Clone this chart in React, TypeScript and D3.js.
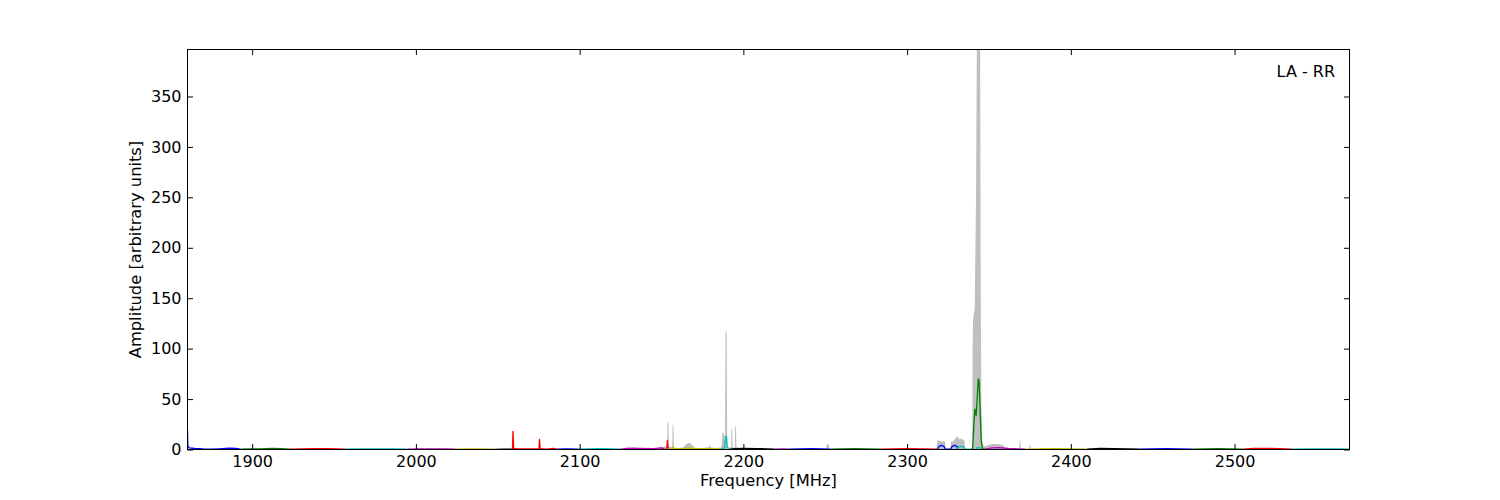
import React, { useEffect, useRef } from 'react';
import * as d3 from 'd3';

// axis setup
const freqDomain: [number, number] = [1860.5, 2570.2];
const ampMax = 396.6;
const freqTicks = [1900, 2000, 2100, 2200, 2300, 2400, 2500];
const ampTicks = [0, 50, 100, 150, 200, 250, 300, 350];
const panelLabel = 'LA - RR';

// matplotlib classic color letters
const colorCodes: Record<string, string> = {
  b: '#0000ff', g: '#008000', r: '#ff0000', c: '#00bfbf', m: '#bf00bf', y: '#bfbf00', k: '#000000',
};

// one entry per sub-band: colour letter + [freq MHz, amplitude] points
const bandColors = [
  'b', 'g', 'r', 'c', 'm', 'y', 'k', 'r', 'b', 'c', 'm', 'y', 'r', 'c', 'k', 'm',
  'b', 'g', 'r', 'b', 'c', 'g', 'c', 'm', 'y', 'k', 'b', 'g', 'r', 'c',
];

const bandPoints: [number, number][][] = [
  [[1860.5, 19], [1860.7, 4], [1861.5, 1.6], [1865, 1.0], [1870, 0.5], [1875, 0.3], [1880, 0.7], [1886, 1.3], [1890, 1.0], [1893, 0.3]],
  [[1893, 0.3], [1898, 0.5], [1905, 0.7], [1912, 1.0], [1918, 0.9], [1923, 0.3]],
  [[1923, 0.3], [1930, 0.7], [1938, 0.9], [1946, 0.8], [1952, 0.5], [1957, 0.3]],
  [[1957, 0.3], [1965, 0.5], [1975, 0.6], [1985, 0.5], [1995, 0.3]],
  [[1995, 0.3], [2002, 0.6], [2010, 0.7], [2018, 0.5], [2024, 0.3]],
  [[2024, 0.3], [2032, 0.5], [2040, 0.6], [2048, 0.3]],
  [[2048, 0.2], [2053, 0.4], [2059, 0.3]],
  [[2059, 0.3], [2059.3, 18], [2059.7, 1.2], [2062, 0.6], [2070, 0.5], [2075.2, 0.8], [2075.5, 10], [2075.9, 0.8], [2080, 0.4], [2084, 1.0], [2086, 0.3]],
  [[2086, 0.3], [2092, 0.6], [2099, 0.3]],
  [[2099, 0.3], [2105, 0.6], [2112, 0.8], [2120, 0.7], [2125, 0.3]],
  [[2125, 0.3], [2130, 1.2], [2136, 1.0], [2145, 0.8], [2150, 1.5], [2152, 0.4]],
  [[2152, 0.3], [2156.5, 0.8], [2157, 2.5], [2157.5, 0.8], [2162, 0.6], [2167, 1.3], [2170, 1.1], [2175, 0.7], [2180, 0.8], [2186, 0.3]],
  [[2153.2, 0.5], [2153.6, 9], [2154.1, 1]],
  [[2186, 0.3], [2188.5, 1.5], [2189.1, 13], [2189.7, 13], [2190.1, 2], [2192, 0.3]],
  [[2192, 0.3], [2195, 0.8], [2200, 1.0], [2208, 0.9], [2214, 0.7], [2219, 0.3]],
  [[2219, 0.3], [2224, 0.6], [2228, 0.3]],
  [[2228, 0.3], [2235, 0.6], [2242, 0.8], [2248, 0.6], [2253, 0.3]],
  [[2253, 0.3], [2260, 0.6], [2268, 0.8], [2276, 0.6], [2284, 0.3]],
  [[2284, 0.3], [2292, 0.6], [2300, 0.8], [2310, 0.6], [2318.5, 0.3]],
  [[2318.5, 0.3], [2319.5, 3], [2321, 4], [2322.5, 3], [2323.5, 0.3], [2326.5, 0.3], [2327.5, 3], [2329, 4], [2330.5, 3], [2331, 0.3]],
  [[2330, 0.3], [2331.5, 2.5], [2333, 3], [2334.5, 2.5], [2335.5, 0.3], [2339, 0.3]],
  [[2339, 0.3], [2340.0, 0.3], [2340.8, 25], [2341.4, 40], [2341.8, 36], [2342.2, 34], [2342.8, 50], [2343.5, 70], [2344.0, 68], [2344.7, 35], [2345.3, 8], [2346.1, 0.5], [2348, 0.3]],
  [[2342, 0.3], [2343, 2], [2344.5, 1.5], [2345.5, 0.3]],
  [[2348, 0.3], [2352, 1.6], [2356, 1.8], [2362, 1.0], [2368, 0.6], [2372, 0.3]],
  [[2372, 0.3], [2380, 0.6], [2390, 0.8], [2400, 0.6], [2410, 0.3]],
  [[2410, 0.3], [2418, 1.0], [2426, 0.8], [2435, 0.6], [2442, 0.3]],
  [[2442, 0.3], [2450, 0.6], [2458, 0.8], [2466, 0.7], [2474, 0.3]],
  [[2474, 0.3], [2482, 0.6], [2490, 0.8], [2498, 0.6], [2505, 0.3]],
  [[2505, 0.3], [2512, 1.0], [2520, 1.2], [2528, 0.9], [2535, 0.3]],
  [[2535, 0.3], [2545, 0.6], [2555, 0.7], [2565, 0.6], [2570.2, 0.4]],
];

// grey envelope (spread of the spectra)
const grayPoints: [number, number][] = [
  [1860.5, 0], [2075.2, 0], [2075.5, 13], [2075.9, 0],
  [2126, 0], [2128, 2], [2134, 2.2], [2136, 0],
  [2147, 0], [2149, 2], [2152, 3], [2153.4, 3], [2153.6, 27], [2154.2, 27], [2154.5, 3], [2155.5, 2.5],
  [2156.6, 2.5], [2156.8, 24.5], [2157.3, 24.5], [2157.6, 2], [2160, 1.5], [2163, 2], [2165, 5], [2166, 6],
  [2167.5, 7], [2168, 5], [2169, 4.5], [2170, 1.5], [2175, 1.5], [2179, 2.5], [2179.5, 5], [2180, 2], [2183, 1.5],
  [2186.5, 2], [2187.2, 16], [2187.6, 17], [2188.2, 15], [2188.8, 8], [2189.1, 117], [2189.8, 117], [2190.1, 8], [2190.6, 2],
  [2192.5, 2], [2192.7, 20], [2193.2, 20], [2193.5, 2], [2194.8, 2], [2195, 23], [2195.5, 23], [2195.8, 2],
  [2197, 1.5], [2200, 1], [2205, 0],
  [2250.5, 0], [2251, 5.5], [2252, 5.5], [2252.5, 0],
  [2318, 0], [2318.5, 9], [2320, 8.5], [2323.2, 8], [2323.6, 0],
  [2326.5, 0], [2326.8, 8], [2328, 8], [2330, 12], [2331, 13], [2332, 10], [2333, 11], [2335, 9], [2335.5, 0],
  [2339.8, 0], [2340.0, 100], [2340.3, 129], [2341.3, 140], [2342.1, 250], [2342.6, 396.6], [2344.6, 396.6],
  [2345.0, 150], [2345.4, 40], [2345.8, 10], [2346.5, 4], [2347, 3], [2349, 4], [2352, 5.5], [2356, 5.5], [2359, 4], [2360, 0],
  [2368.4, 0], [2368.7, 9], [2369.1, 9], [2369.4, 0],
  [2374.5, 0], [2374.8, 5], [2375.2, 5], [2375.5, 0],
  [2570.2, 0],
];

const W = 1500;
const H = 500;
const margin = { left: 187.5, right: 1349.5, top: 49.5, bottom: 449.5 };
const FONT = 'DejaVu Sans';

export default function App() {
  const svgRef = useRef<SVGSVGElement | null>(null);

  useEffect(() => {
    if (!svgRef.current) return;
    document.body.style.margin = '0';
    const svg = d3.select(svgRef.current);
    svg.selectAll('*').remove();

    const x = d3.scaleLinear().domain(freqDomain).range([margin.left, margin.right]);
    const y = d3.scaleLinear().domain([0, ampMax]).range([margin.bottom, margin.top]);

    svg.append('defs').append('clipPath').attr('id', 'plotclip')
      .append('rect')
      .attr('x', margin.left).attr('y', margin.top)
      .attr('width', margin.right - margin.left).attr('height', margin.bottom - margin.top);

    const plot = svg.append('g').attr('clip-path', 'url(#plotclip)');

    // grey spread
    const area = d3.area<[number, number]>()
      .x(d => x(d[0]))
      .y0(y(0))
      .y1(d => y(d[1]));
    plot.append('path')
      .attr('d', area(grayPoints))
      .attr('fill', '#bfbfbf')
      .attr('stroke', 'none');

    // coloured sub-band spectra
    const line = d3.line<[number, number]>()
      .x(d => x(d[0]))
      .y(d => y(d[1]));
    plot.append('g')
      .attr('fill', 'none')
      .attr('stroke-width', 1.3)
      .attr('stroke-linejoin', 'round')
      .selectAll('path')
      .data(bandPoints)
      .join('path')
      .attr('stroke', (d, i) => colorCodes[bandColors[i]])
      .attr('d', d => line(d));

    // axes, ticks pointing inward on all sides
    const styleTicks = (g: d3.Selection<SVGGElement, unknown, null, undefined>, keepText: boolean) => {
      g.select('.domain').remove();
      g.selectAll('.tick line').attr('stroke', '#000').attr('stroke-width', 1);
      if (!keepText) g.selectAll('.tick text').remove();
      g.selectAll('.tick text')
        .attr('font-family', FONT)
        .attr('font-size', 16)
        .attr('fill', '#000');
    };

    svg.append('g')
      .attr('transform', `translate(0,${margin.bottom})`)
      .call(d3.axisBottom(x).tickValues(freqTicks).tickFormat(d3.format('d')).tickSizeInner(-5.5).tickSizeOuter(0).tickPadding(6.5))
      .call(g => styleTicks(g, true));
    svg.append('g')
      .attr('transform', `translate(0,${margin.top})`)
      .call(d3.axisTop(x).tickValues(freqTicks).tickSizeInner(-5.5).tickSizeOuter(0))
      .call(g => styleTicks(g, false));
    svg.append('g')
      .attr('transform', `translate(${margin.left},0)`)
      .call(d3.axisLeft(y).tickValues(ampTicks).tickFormat(d3.format('d')).tickSizeInner(-5.5).tickSizeOuter(0).tickPadding(6))
      .call(g => styleTicks(g, true));
    svg.append('g')
      .attr('transform', `translate(${margin.right},0)`)
      .call(d3.axisRight(y).tickValues(ampTicks).tickSizeInner(-5.5).tickSizeOuter(0))
      .call(g => styleTicks(g, false));

    // frame
    svg.append('rect')
      .attr('x', margin.left).attr('y', margin.top)
      .attr('width', margin.right - margin.left).attr('height', margin.bottom - margin.top)
      .attr('fill', 'none').attr('stroke', '#000').attr('stroke-width', 1);

    // labels
    svg.append('text')
      .attr('x', (margin.left + margin.right) / 2)
      .attr('y', 486)
      .attr('text-anchor', 'middle')
      .attr('font-family', FONT).attr('font-size', 16.3)
      .text('Frequency [MHz]');

    svg.append('text')
      .attr('transform', `translate(141,${(margin.top + margin.bottom) / 2}) rotate(-90)`)
      .attr('text-anchor', 'middle')
      .attr('font-family', FONT).attr('font-size', 16.3)
      .text('Amplitude [arbitrary units]');

    svg.append('text')
      .attr('x', 1335)
      .attr('y', 76.5)
      .attr('text-anchor', 'end')
      .attr('font-family', FONT).attr('font-size', 16)
      .text(panelLabel);
  }, []);

  return (
    <svg ref={svgRef} width={W} height={H} style={{ display: 'block', background: '#fff' }} />
  );
}
